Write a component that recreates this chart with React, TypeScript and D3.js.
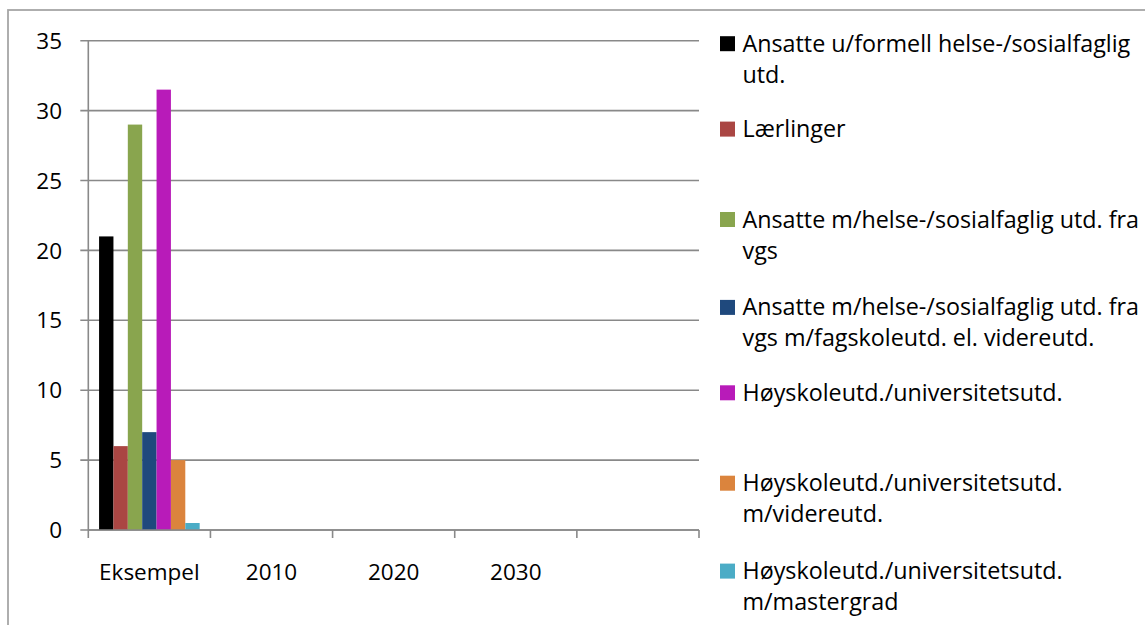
import { scaleBand, scaleLinear, range } from 'd3';

const categories = ['Eksempel', '2010', '2020', '2030', ''];

const seriesNames = [
  ['Ansatte u/formell helse-/sosialfaglig', 'utd.'],
  ['Lærlinger'],
  ['Ansatte m/helse-/sosialfaglig utd. fra', 'vgs'],
  ['Ansatte m/helse-/sosialfaglig utd. fra', 'vgs m/fagskoleutd. el. videreutd.'],
  ['Høyskoleutd./universitetsutd.'],
  ['Høyskoleutd./universitetsutd.', 'm/videreutd.'],
  ['Høyskoleutd./universitetsutd.', 'm/mastergrad'],
];

const seriesColors = ['#000000', '#aa4643', '#89a54e', '#1f497d', '#b81bb9', '#db843d', '#4bacc6'];

// values per series, one entry per category (null = no data)
const ansatteUten = [21, null, null, null, null];
const laerlinger = [6, null, null, null, null];
const ansatteVgs = [29, null, null, null, null];
const ansatteFagskole = [7, null, null, null, null];
const hoyskole = [31.5, null, null, null, null];
const hoyskoleVidere = [5, null, null, null, null];
const hoyskoleMaster = [0.5, null, null, null, null];

const seriesValues = [ansatteUten, laerlinger, ansatteVgs, ansatteFagskole, hoyskole, hoyskoleVidere, hoyskoleMaster];

const yTicks = [0, 5, 10, 15, 20, 25, 30, 35];

const W = 1145;
const H = 625;
const font = '"Open Sans", sans-serif';
const gridColor = '#898989';

export default function App() {
  const plot = { left: 88.3, right: 699, top: 40.7, bottom: 530 };

  const x = scaleBand<string>()
    .domain(categories.map((c, i) => String(i)))
    .range([plot.left, plot.right])
    .paddingInner(0)
    .paddingOuter(0);

  // gap width 150% between groups
  const inner = scaleBand<string>()
    .domain(seriesNames.map((s, i) => String(i)))
    .range([0, x.bandwidth()])
    .paddingInner(0)
    .paddingOuter(0.75);

  const y = scaleLinear().domain([0, 35]).range([plot.bottom, plot.top]);

  const xTickPos = range(categories.length + 1).map(i => plot.left + i * x.step());

  const legendX = 720;
  const legendTop = 51.7;
  const legendStep = 87.9;
  const lineH = 31;

  return (
    <svg width={W} height={H} style={{ position: 'absolute', left: 0, top: 0, background: '#fff' }}
      fontFamily={font}>
      <rect x={8} y={10} width={W + 20} height={H + 20} fill="#fff" stroke="#a6a6a6" strokeWidth={1.8} />

      {/* gridlines + y ticks */}
      {yTicks.map(t => (
        <g key={t}>
          <line x1={plot.left - 8} x2={plot.right} y1={y(t)} y2={y(t)} stroke={gridColor} strokeWidth={1.6} />
          <text x={62} y={y(t)} dy="0.36em" textAnchor="end" fontSize={22.5} fill="#000">{t}</text>
        </g>
      ))}

      {/* y axis */}
      <line x1={plot.left} x2={plot.left} y1={plot.top} y2={plot.bottom} stroke={gridColor} strokeWidth={1.6} />

      {/* bars */}
      {seriesValues.map((vals, si) =>
        vals.map((v, ci) =>
          v == null ? null : (
            <rect key={`${si}-${ci}`}
              x={(x(String(ci)) ?? 0) + (inner(String(si)) ?? 0)}
              y={y(v)}
              width={inner.bandwidth()}
              height={y(0) - y(v)}
              fill={seriesColors[si]} />
          )
        )
      )}

      {/* x axis */}
      <line x1={plot.left} x2={plot.right} y1={plot.bottom} y2={plot.bottom} stroke={gridColor} strokeWidth={1.6} />
      {xTickPos.map((p, i) => (
        <line key={i} x1={p} x2={p} y1={plot.bottom} y2={plot.bottom + 8} stroke={gridColor} strokeWidth={1.6} />
      ))}
      {categories.map((c, i) => (
        <text key={i} x={(x(String(i)) ?? 0) + x.bandwidth() / 2} y={580} textAnchor="middle" fontSize={22.5} fill="#000">{c}</text>
      ))}

      {/* legend */}
      {seriesNames.map((lines, i) => {
        const base = legendTop + i * legendStep - (lines.length === 1 ? 2.5 : 0);
        return (
          <g key={i}>
            <rect x={legendX} y={base - 15.5} width={15} height={15} fill={seriesColors[i]} />
            {lines.map((l, li) => (
              <text key={li} x={742.5} y={base + li * lineH} fontSize={23.3} fill="#000">{l}</text>
            ))}
          </g>
        );
      })}
    </svg>
  );
}
